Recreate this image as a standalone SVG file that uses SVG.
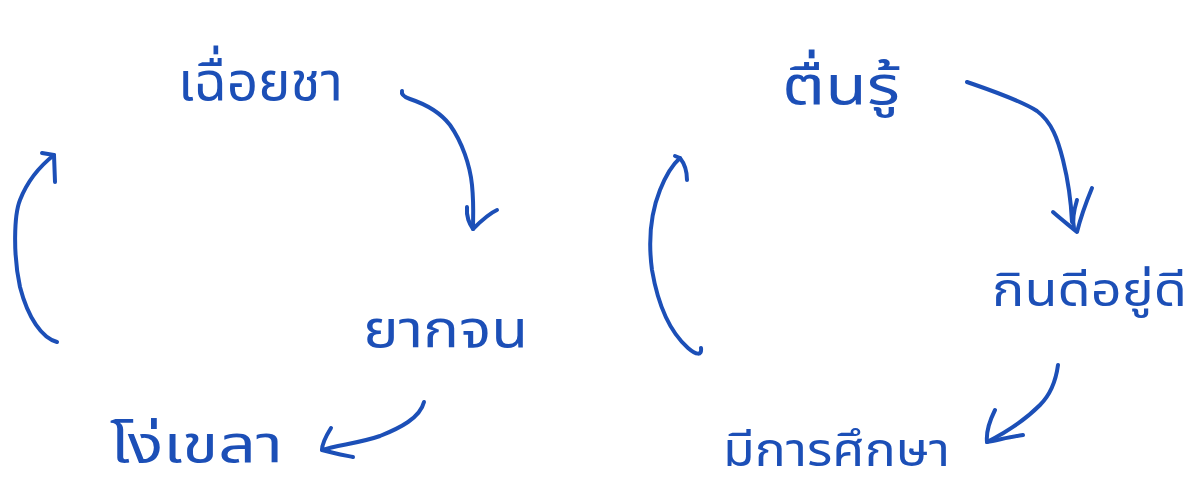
<svg xmlns="http://www.w3.org/2000/svg" width="1189" height="486" viewBox="0 0 1189 486">
<style>
.t{font-family:"Noto Sans Thai","Noto Sans","DejaVu Sans","Liberation Sans",sans-serif;fill:#1c4fb7;}
.c path{fill:none;stroke:#1c4fb7;stroke-width:4;stroke-linecap:round;stroke-linejoin:round;}
</style>
<rect width="1189" height="486" fill="#ffffff"/>
<g id="n-lazy"><text class="t" x="178" y="100" font-size="54" textLength="165" lengthAdjust="spacingAndGlyphs">เฉื่อยชา</text></g>
<g id="n-poor"><text class="t" x="363" y="347" font-size="52" textLength="165" lengthAdjust="spacingAndGlyphs">ยากจน</text></g>
<g id="n-ignorant"><text class="t" x="110" y="462" font-size="52" textLength="173" lengthAdjust="spacingAndGlyphs">โง่เขลา</text></g>
<g id="n-aware"><text class="t" x="782" y="104" font-size="54" textLength="118" lengthAdjust="spacingAndGlyphs">ตื่นรู้</text></g>
<g id="n-wellbeing"><text class="t" x="992" y="306" font-size="46" textLength="195" lengthAdjust="spacingAndGlyphs">กินดีอยู่ดี</text></g>
<g id="n-educated"><text class="t" x="723" y="466" font-size="46" textLength="227" lengthAdjust="spacingAndGlyphs">มีการศึกษา</text></g>
<g id="connectors" class="c">
<path d="M402,91 C401,95 404,97 410,99 C425,104 440,112 450,125 C462,142 470,165 472,185 C474,205 473,218 473,229"/>
<path d="M467,207 C466,218 470,224 473,229 C480,222 488,214 497,210"/>
<path d="M424,402 C420,418 400,428 380,436 C360,443 338,445 322,450"/>
<path d="M331,428 C326,436 322,443 322,450 C332,453 343,455 353,457"/>
<path d="M57,342 C42,338 28,318 20,287 C13,255 14,215 20,200 C27,182 40,166 54,155"/>
<path d="M42,153 L54,155 L55,182"/>
<path d="M967,82 C990,90 1020,100 1037,111 C1052,122 1058,140 1063,160 C1068,180 1071,200 1072,222"/>
<path d="M1053,212 C1062,220 1070,226 1077,232 C1080,220 1085,205 1092,188"/>
<path d="M1077,200 C1074,210 1072,220 1074,228"/>
<path d="M1058,365 C1056,380 1050,395 1040,405 C1025,420 1005,433 987,442"/>
<path d="M995,410 C990,420 986,432 987,442 C998,440 1010,437 1023,435"/>
<path d="M701,348 C702,356 696,355 688,348 C670,332 658,305 652,270 C648,240 650,215 660,190 C666,175 672,165 680,158"/>
<path d="M675,156 L680,158 C684,163 687,170 687,180"/>
</g>
</svg>
